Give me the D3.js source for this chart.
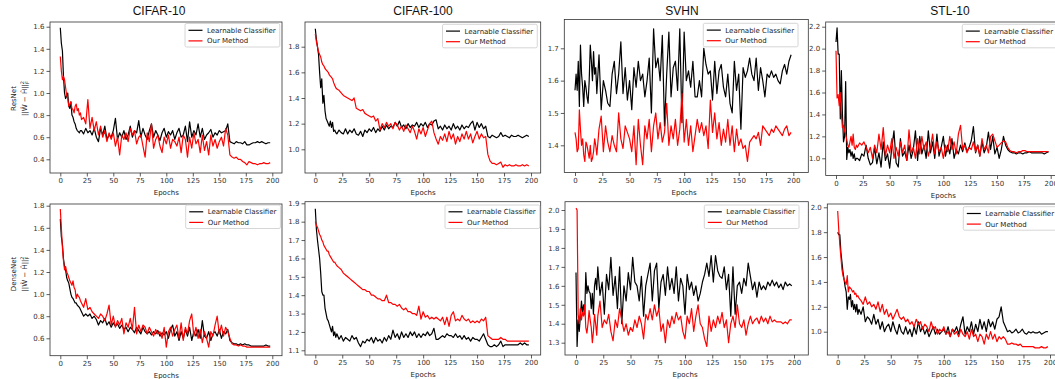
<!DOCTYPE html>
<html>
<head>
<meta charset="utf-8">
<script src="https://cdn.jsdelivr.net/npm/d3@7"></script>
<style>
  body { margin: 0; background: #fff; }
  svg { display: block; }
  .tick text { font-family: "DejaVu Sans", sans-serif; font-size: 7px; fill: #333; }
  .tick line { stroke: #333; stroke-width: 0.8; }
  .spine { fill: none; stroke: #333; stroke-width: 0.8; }
  .title { font-family: "Liberation Sans", Arial, sans-serif; font-size: 12px; fill: #111; }
  .xlabel, .ylabel, .legtext { font-family: "DejaVu Sans", sans-serif; font-size: 7px; fill: #222; }
</style>
</head>
<body>
<svg id="fig" width="1055" height="379"></svg>
<script>
// epochs: every epoch for the first 20, then every second epoch
const epochs = d3.range(0, 20).concat(d3.range(20, 200, 2));
const xTicks = [0, 25, 50, 75, 100, 125, 150, 175, 200];
const titles = ['CIFAR-10', 'CIFAR-100', 'SVHN', 'STL-10'];
const rowLabels = ['ResNet', 'DenseNet'];
const seriesNames = ['Learnable Classifier', 'Our Method'];
const seriesColors = ['#000000', '#ff0000'];

// ---- ResNet row ----
const resC10Learn = [1.59, 1.45, 1.38, 1.15, 1.00, 0.95, 0.97, 1.00, 0.88, 0.86, 0.92, 0.80, 0.78, 0.74, 0.72, 0.68, 0.66, 0.65, 0.64, 0.66,
  0.66, 0.63, 0.68, 0.64, 0.66, 0.62, 0.68, 0.60, 0.56, 0.68,
  0.62, 0.70, 0.58, 0.62, 0.60, 0.66, 0.77, 0.58, 0.64, 0.60,
  0.66, 0.58, 0.62, 0.70, 0.60, 0.66, 0.64, 0.75, 0.60, 0.68,
  0.62, 0.58, 0.66, 0.72, 0.60, 0.66, 0.62, 0.57, 0.64, 0.68,
  0.60, 0.65, 0.62, 0.66, 0.58, 0.64, 0.68, 0.60, 0.62, 0.70,
  0.56, 0.74, 0.60, 0.66, 0.62, 0.72, 0.60, 0.68, 0.58, 0.62,
  0.64, 0.67, 0.60, 0.64, 0.62, 0.66, 0.64, 0.65, 0.66, 0.72,
  0.56, 0.55, 0.54, 0.56, 0.55, 0.55, 0.54, 0.56, 0.53, 0.53,
  0.54, 0.55, 0.55, 0.56, 0.55, 0.56, 0.55, 0.54, 0.55, 0.55];
const resC10Ours = [1.33, 1.20, 1.12, 1.15, 1.12, 1.05, 0.98, 0.95, 0.88, 0.90, 0.92, 0.86, 0.85, 0.82, 0.88, 0.90, 0.84, 0.86, 0.80, 0.82,
  0.76, 0.78, 0.72, 0.94, 0.68, 0.78, 0.66, 0.74, 0.62, 0.70,
  0.60, 0.66, 0.56, 0.64, 0.58, 0.64, 0.52, 0.60, 0.44, 0.62,
  0.58, 0.64, 0.56, 0.68, 0.62, 0.66, 0.54, 0.60, 0.62, 0.52,
  0.42, 0.64, 0.56, 0.72, 0.50, 0.58, 0.62, 0.52, 0.46, 0.60,
  0.54, 0.62, 0.50, 0.58, 0.56, 0.52, 0.60, 0.46, 0.62, 0.58,
  0.42, 0.60, 0.50, 0.64, 0.54, 0.58, 0.46, 0.62, 0.48, 0.56,
  0.44, 0.62, 0.52, 0.58, 0.50, 0.56, 0.60, 0.52, 0.68, 0.62,
  0.44, 0.42, 0.41, 0.42, 0.40, 0.40, 0.38, 0.37, 0.35, 0.38,
  0.37, 0.36, 0.36, 0.35, 0.36, 0.36, 0.37, 0.36, 0.36, 0.37];

const resC100Learn = [1.94, 1.86, 1.80, 1.74, 1.60, 1.48, 1.55, 1.36, 1.42, 1.30, 1.24, 1.22, 1.20, 1.18, 1.22, 1.17, 1.21, 1.14, 1.15, 1.13,
  1.12, 1.15, 1.13, 1.12, 1.16, 1.12, 1.15, 1.13, 1.16, 1.12,
  1.11, 1.14, 1.10, 1.15, 1.13, 1.16, 1.14, 1.17, 1.13, 1.16,
  1.14, 1.18, 1.15, 1.19, 1.16, 1.18, 1.17, 1.21, 1.18, 1.22,
  1.17, 1.19, 1.16, 1.20, 1.17, 1.19, 1.18, 1.21, 1.17, 1.20,
  1.18, 1.21, 1.17, 1.20, 1.19, 1.22, 1.23, 1.16, 1.18, 1.15,
  1.19, 1.16, 1.18, 1.15, 1.20, 1.16, 1.18, 1.15, 1.19, 1.16,
  1.18, 1.17, 1.20, 1.22, 1.15, 1.21, 1.17, 1.20, 1.16, 1.18,
  1.10, 1.09, 1.11, 1.10, 1.09, 1.10, 1.13, 1.10, 1.11, 1.10,
  1.09, 1.11, 1.10, 1.10, 1.11, 1.10, 1.09, 1.10, 1.11, 1.10];
const resC100Ours = [1.90, 1.84, 1.80, 1.76, 1.74, 1.72, 1.68, 1.66, 1.65, 1.63, 1.62, 1.61, 1.60, 1.58, 1.57, 1.56, 1.55, 1.52, 1.50, 1.48,
  1.47, 1.46, 1.44, 1.42, 1.41, 1.40, 1.39, 1.38, 1.40, 1.32,
  1.31, 1.30, 1.31, 1.28, 1.27, 1.26, 1.25, 1.26, 1.22, 1.24,
  1.15, 1.20, 1.17, 1.21, 1.18, 1.20, 1.16, 1.21, 1.19, 1.15,
  1.18, 1.14, 1.19, 1.16, 1.13, 1.18, 1.14, 1.08, 1.16, 1.12,
  1.17, 1.10, 1.15, 1.20, 1.22, 1.13, 1.08, 1.04, 1.10, 1.07,
  1.12, 1.06, 1.14, 1.08, 1.12, 1.04, 1.10, 1.06, 1.12, 1.08,
  1.14, 1.08, 1.12, 1.05, 1.10, 1.14, 1.08, 1.12, 1.09, 1.10,
  0.96, 0.91, 0.89, 0.89, 0.88, 0.89, 0.90, 0.86, 0.88, 0.87,
  0.88, 0.87, 0.87, 0.88, 0.87, 0.87, 0.88, 0.87, 0.88, 0.87];

const resSvhnLearn = [1.57, 1.62, 1.57, 1.66, 1.52, 1.71, 1.62, 1.58, 1.52, 1.60, 1.58, 1.55, 1.53, 1.60, 1.71, 1.66, 1.60, 1.69, 1.62, 1.64,
  1.56, 1.68, 1.51, 1.60, 1.57, 1.53, 1.52, 1.62, 1.66, 1.56,
  1.62, 1.72, 1.56, 1.64, 1.54, 1.60, 1.51, 1.64, 1.58, 1.66,
  1.60, 1.62, 1.55, 1.60, 1.67, 1.50, 1.76, 1.64, 1.67, 1.60,
  1.74, 1.46, 1.62, 1.75, 1.55, 1.64, 1.66, 1.57, 1.76, 1.47,
  1.75, 1.60, 1.63, 1.58, 1.66, 1.55, 1.55, 1.60, 1.55, 1.70,
  1.65, 1.62, 1.63, 1.54, 1.66, 1.56, 1.63, 1.65, 1.58, 1.55,
  1.62, 1.53, 1.50, 1.66, 1.57, 1.62, 1.45, 1.64, 1.61, 1.63,
  1.67, 1.62, 1.60, 1.67, 1.57, 1.64, 1.60, 1.55, 1.62, 1.61,
  1.63, 1.61, 1.62, 1.60, 1.59, 1.63, 1.65, 1.62, 1.66, 1.68];
const resSvhnOurs = [1.44, 1.42, 1.38, 1.39, 1.51, 1.45, 1.40, 1.42, 1.37, 1.35, 1.41, 1.40, 1.38, 1.36, 1.40, 1.35, 1.36, 1.38, 1.42, 1.40,
  1.37, 1.45, 1.49, 1.38, 1.46, 1.41, 1.38, 1.43, 1.40, 1.38,
  1.50, 1.42, 1.39, 1.46, 1.44, 1.42, 1.38, 1.46, 1.34, 1.48,
  1.40, 1.34, 1.46, 1.42, 1.48, 1.38, 1.46, 1.50, 1.42, 1.47,
  1.41, 1.44, 1.53, 1.40, 1.46, 1.42, 1.48, 1.40, 1.45, 1.56,
  1.41, 1.48, 1.40, 1.46, 1.38, 1.43, 1.48, 1.44, 1.47, 1.43,
  1.46, 1.39, 1.54, 1.44, 1.50, 1.42, 1.47, 1.40, 1.45, 1.41,
  1.48, 1.40, 1.46, 1.38, 1.45, 1.40, 1.42, 1.39, 1.40, 1.35,
  1.41, 1.42, 1.43, 1.42, 1.44, 1.40, 1.46, 1.45, 1.44, 1.43,
  1.45, 1.44, 1.46, 1.45, 1.44, 1.43, 1.45, 1.46, 1.43, 1.44];

const resStlLearn = [2.06, 2.19, 1.95, 1.95, 1.36, 1.80, 1.40, 1.15, 1.20, 1.70, 0.99, 1.10, 1.05, 1.08, 1.02, 1.06, 1.00, 1.04, 0.98, 1.00,
  1.00, 0.98, 1.04, 1.02, 1.12, 1.00, 0.94, 0.96, 1.10, 0.95,
  1.05, 0.92, 1.15, 0.98, 1.04, 0.91, 1.10, 1.25, 0.96, 0.92,
  1.18, 1.02, 1.06, 0.98, 1.12, 1.00, 1.08, 1.25, 0.98, 1.20,
  1.04, 1.12, 1.00, 1.25, 1.05, 1.15, 1.00, 1.22, 1.02, 1.10,
  1.20, 1.02, 1.12, 1.04, 1.18, 1.00, 1.08, 1.04, 1.12, 1.06,
  1.14, 1.06, 1.10, 1.16, 1.29, 1.05, 1.12, 1.02, 1.15, 1.05,
  1.10, 1.24, 1.08, 1.20, 1.04, 1.10, 1.00, 1.08, 1.20, 1.12,
  1.08, 1.06, 1.05, 1.05, 1.04, 1.05, 1.05, 1.04, 1.05, 1.05,
  1.06, 1.05, 1.05, 1.05, 1.05, 1.05, 1.05, 1.04, 1.05, 1.06];
const resStlOurs = [1.98, 1.55, 1.58, 1.48, 1.60, 1.40, 1.28, 1.30, 1.25, 1.22, 1.17, 1.12, 1.10, 1.15, 1.20, 1.12, 1.22, 1.10, 1.08, 1.12,
  1.10, 1.14, 1.12, 1.15, 1.10, 1.05, 1.10, 1.00, 1.12, 1.05,
  1.22, 1.08, 1.28, 1.02, 1.12, 1.05, 1.18, 1.00, 1.10, 1.02,
  1.15, 1.05, 1.12, 0.98, 1.26, 1.05, 1.10, 1.00, 1.18, 1.04,
  1.20, 1.08, 1.15, 1.02, 1.10, 1.22, 1.04, 1.15, 1.06, 1.10,
  1.00, 1.12, 1.06, 1.20, 1.08, 1.15, 1.04, 1.22, 1.30, 1.08,
  1.12, 1.05, 1.10, 1.08, 1.15, 1.06, 1.12, 1.02, 1.18, 1.08,
  1.12, 1.05, 1.20, 1.22, 1.16, 1.10, 1.12, 1.14, 1.16, 1.15,
  1.10, 1.07, 1.06, 1.06, 1.05, 1.06, 1.06, 1.07, 1.07, 1.06,
  1.06, 1.06, 1.06, 1.06, 1.06, 1.06, 1.06, 1.06, 1.06, 1.06];

// ---- DenseNet row ----
const denC10Learn = [1.68, 1.52, 1.45, 1.32, 1.25, 1.22, 1.15, 1.12, 1.10, 1.05, 1.00, 0.97, 0.96, 0.94, 0.92, 0.92, 0.90, 0.89, 0.88, 0.86,
  0.84, 0.80, 0.82, 0.80, 0.82, 0.78, 0.80, 0.77, 0.72, 0.76,
  0.74, 0.78, 0.72, 0.75, 0.70, 0.74, 0.71, 0.73, 0.69, 0.72,
  0.68, 0.70, 0.66, 0.70, 0.68, 0.65, 0.70, 0.67, 0.64, 0.70,
  0.66, 0.64, 0.66, 0.63, 0.66, 0.64, 0.67, 0.62, 0.65, 0.63,
  0.66, 0.60, 0.68, 0.72, 0.62, 0.66, 0.58, 0.66, 0.60, 0.68,
  0.62, 0.70, 0.58, 0.66, 0.62, 0.68, 0.60, 0.76, 0.62, 0.60,
  0.66, 0.58, 0.64, 0.66, 0.62, 0.68, 0.60, 0.66, 0.64, 0.68,
  0.58, 0.56, 0.55, 0.55, 0.54, 0.55, 0.54, 0.55, 0.54, 0.54,
  0.53, 0.53, 0.53, 0.53, 0.53, 0.53, 0.53, 0.54, 0.53, 0.53];
const denC10Ours = [1.77, 1.60, 1.42, 1.30, 1.22, 1.25, 1.20, 1.18, 1.15, 1.12, 1.10, 1.08, 1.12, 1.06, 1.04, 0.96, 1.00, 0.98, 0.97, 0.94,
  0.92, 0.88, 0.96, 0.86, 0.88, 0.84, 0.82, 0.80, 0.78, 0.82,
  0.80, 0.76, 0.82, 0.90, 0.72, 0.80, 0.70, 0.76, 0.72, 0.78,
  0.64, 0.74, 0.70, 0.78, 0.68, 0.88, 0.64, 0.72, 0.66, 0.72,
  0.70, 0.64, 0.70, 0.66, 0.62, 0.68, 0.64, 0.66, 0.60, 0.70,
  0.52, 0.66, 0.70, 0.62, 0.68, 0.72, 0.60, 0.74, 0.58, 0.70,
  0.64, 0.76, 0.82, 0.62, 0.70, 0.60, 0.68, 0.56, 0.66, 0.60,
  0.52, 0.66, 0.62, 0.72, 0.80, 0.64, 0.72, 0.62, 0.70, 0.66,
  0.60, 0.55, 0.54, 0.54, 0.53, 0.54, 0.53, 0.53, 0.52, 0.52,
  0.52, 0.52, 0.52, 0.52, 0.52, 0.52, 0.52, 0.52, 0.52, 0.52];

const denC100Learn = [1.87, 1.76, 1.70, 1.65, 1.60, 1.52, 1.42, 1.40, 1.40, 1.33, 1.30, 1.27, 1.26, 1.24, 1.22, 1.20, 1.23, 1.18, 1.20, 1.17,
  1.19, 1.16, 1.18, 1.15, 1.17, 1.16, 1.15, 1.18, 1.16, 1.17,
  1.14, 1.12, 1.15, 1.14, 1.16, 1.15, 1.17, 1.14, 1.17, 1.15,
  1.16, 1.14, 1.17, 1.15, 1.18, 1.16, 1.21, 1.17, 1.19, 1.16,
  1.20, 1.17, 1.19, 1.17, 1.20, 1.18, 1.20, 1.17, 1.19, 1.17,
  1.19, 1.18, 1.20, 1.18, 1.19, 1.22, 1.16, 1.16, 1.17, 1.18,
  1.17, 1.19, 1.18, 1.18, 1.17, 1.19, 1.17, 1.18, 1.16, 1.18,
  1.16, 1.17, 1.15, 1.17, 1.16, 1.16, 1.15, 1.17, 1.19, 1.16,
  1.13, 1.12, 1.12, 1.13, 1.12, 1.13, 1.15, 1.12, 1.13, 1.13,
  1.13, 1.13, 1.13, 1.13, 1.13, 1.14, 1.13, 1.14, 1.13, 1.13];
const denC100Ours = [1.80, 1.78, 1.77, 1.75, 1.73, 1.72, 1.70, 1.69, 1.67, 1.66, 1.65, 1.64, 1.64, 1.62, 1.61, 1.60, 1.59, 1.58, 1.58, 1.57,
  1.56, 1.55, 1.54, 1.52, 1.51, 1.50, 1.49, 1.48, 1.47, 1.46,
  1.45, 1.44, 1.43, 1.43, 1.42, 1.42, 1.40, 1.40, 1.39, 1.38,
  1.38, 1.37, 1.37, 1.40, 1.36, 1.36, 1.35, 1.35, 1.34, 1.35,
  1.33, 1.32, 1.33, 1.31, 1.31, 1.30, 1.30, 1.29, 1.34, 1.27,
  1.31, 1.28, 1.29, 1.27, 1.28, 1.27, 1.28, 1.27, 1.26, 1.28,
  1.24, 1.28, 1.23, 1.29, 1.31, 1.26, 1.27, 1.26, 1.29, 1.27,
  1.26, 1.27, 1.25, 1.26, 1.25, 1.26, 1.25, 1.27, 1.26, 1.28,
  1.18, 1.17, 1.16, 1.16, 1.16, 1.16, 1.17, 1.16, 1.16, 1.15,
  1.15, 1.15, 1.15, 1.15, 1.15, 1.15, 1.15, 1.15, 1.15, 1.15];

const denSvhnLearn = [1.67, 1.28, 1.42, 1.36, 1.44, 1.52, 1.46, 1.50, 1.45, 1.67, 1.56, 1.60, 1.57, 1.56, 1.48, 1.56, 1.45, 1.60, 1.64, 1.58,
  1.70, 1.55, 1.62, 1.45, 1.66, 1.58, 1.75, 1.55, 1.65, 1.48,
  1.70, 1.40, 1.60, 1.52, 1.67, 1.58, 1.75, 1.62, 1.60, 1.52,
  1.65, 1.44, 1.60, 1.66, 1.72, 1.52, 1.68, 1.72, 1.48, 1.62,
  1.66, 1.55, 1.70, 1.58, 1.64, 1.56, 1.70, 1.52, 1.64, 1.60,
  1.45, 1.66, 1.58, 1.62, 1.55, 1.60, 1.52, 1.56, 1.62, 1.66,
  1.72, 1.65, 1.76, 1.62, 1.76, 1.68, 1.65, 1.64, 1.70, 1.58,
  1.66, 1.44, 1.70, 1.45, 1.60, 1.62, 1.56, 1.64, 1.60, 1.72,
  1.65, 1.58, 1.62, 1.54, 1.62, 1.58, 1.60, 1.58, 1.62, 1.60,
  1.63, 1.60, 1.62, 1.59, 1.61, 1.58, 1.62, 1.60, 1.61, 1.60];
const denSvhnOurs = [2.01, 2.00, 1.45, 1.40, 1.48, 1.42, 1.46, 1.44, 1.50, 1.38, 1.35, 1.40, 1.47, 1.42, 1.38, 1.30, 1.36, 1.45, 1.40, 1.34,
  1.44, 1.52, 1.38, 1.42, 1.40, 1.45, 1.36, 1.31, 1.42, 1.38,
  1.48, 1.42, 1.36, 1.40, 1.34, 1.38, 1.36, 1.42, 1.38, 1.44,
  1.40, 1.32, 1.45, 1.42, 1.48, 1.42, 1.50, 1.44, 1.48, 1.36,
  1.40, 1.30, 1.42, 1.38, 1.44, 1.40, 1.46, 1.42, 1.44, 1.36,
  1.32, 1.44, 1.40, 1.48, 1.36, 1.44, 1.50, 1.40, 1.38, 1.32,
  1.28, 1.44, 1.36, 1.42, 1.38, 1.44, 1.40, 1.46, 1.38, 1.42,
  1.30, 1.40, 1.44, 1.38, 1.50, 1.40, 1.38, 1.42, 1.34, 1.40,
  1.44, 1.40, 1.42, 1.43, 1.40, 1.44, 1.41, 1.43, 1.40, 1.44,
  1.41, 1.42, 1.41, 1.41, 1.41, 1.40, 1.41, 1.40, 1.42, 1.42];

const denStlLearn = [1.80, 1.78, 1.78, 1.64, 1.56, 1.48, 1.42, 1.36, 1.32, 1.18, 1.28, 1.26, 1.30, 1.20, 1.25, 1.18, 1.22, 1.16, 1.22, 1.14,
  1.18, 1.14, 1.20, 1.08, 1.12, 1.10, 1.06, 1.14, 1.06, 1.10,
  1.02, 1.08, 1.00, 1.04, 1.06, 1.00, 1.08, 1.02, 0.98, 1.06,
  1.00, 0.98, 1.04, 0.98, 1.02, 0.96, 1.04, 0.98, 1.08, 1.00,
  1.04, 0.98, 1.02, 0.96, 1.00, 1.04, 0.98, 1.02, 0.98, 1.00,
  1.02, 0.98, 1.04, 0.96, 1.02, 1.00, 1.04, 0.98, 1.06, 1.12,
  0.98, 1.04, 1.00, 1.08, 0.98, 1.06, 1.00, 1.10, 1.02, 1.08,
  1.00, 1.10, 1.04, 1.08, 1.02, 1.10, 1.12, 1.20, 1.08, 1.04,
  1.00, 1.01, 0.99, 1.00, 1.02, 0.99, 1.00, 1.02, 0.99, 0.98,
  1.00, 0.99, 1.00, 0.99, 0.99, 1.00, 0.98, 0.99, 1.00, 1.00];
const denStlOurs = [1.97, 1.82, 1.70, 1.60, 1.50, 1.45, 1.42, 1.40, 1.38, 1.45, 1.32, 1.36, 1.35, 1.34, 1.32, 1.33, 1.30, 1.31, 1.28, 1.29,
  1.27, 1.25, 1.22, 1.28, 1.22, 1.24, 1.20, 1.22, 1.18, 1.24,
  1.16, 1.22, 1.14, 1.18, 1.12, 1.15, 1.10, 1.14, 1.18, 1.12,
  1.10, 1.12, 1.08, 1.10, 1.06, 1.08, 1.04, 1.10, 1.06, 1.08,
  1.02, 1.06, 1.04, 1.00, 1.08, 1.02, 1.04, 0.98, 1.02, 1.00,
  1.04, 0.98, 1.00, 0.96, 1.02, 0.98, 1.00, 0.96, 1.02, 0.98,
  0.96, 1.00, 0.94, 1.02, 0.96, 0.98, 0.92, 0.98, 0.96, 0.90,
  0.98, 0.94, 1.00, 0.94, 0.98, 0.92, 0.96, 0.94, 0.96, 0.94,
  0.90, 0.90, 0.91, 0.90, 0.90, 0.89, 0.90, 0.88, 0.88, 0.88,
  0.88, 0.88, 0.88, 0.87, 0.87, 0.87, 0.88, 0.87, 0.87, 0.88];

// y tick values per panel
const yTicksC10 = [0.4, 0.6, 0.8, 1.0, 1.2, 1.4, 1.6];
const yTicksC100 = [1.0, 1.2, 1.4, 1.6, 1.8];
const yTicksSvhn = [1.4, 1.5, 1.6, 1.7];
const yTicksStl = [1.0, 1.2, 1.4, 1.6, 1.8, 2.0, 2.2];
const yTicksDC10 = [0.6, 0.8, 1.0, 1.2, 1.4, 1.6, 1.8];
const yTicksDC100 = [1.1, 1.2, 1.3, 1.4, 1.5, 1.6, 1.7, 1.8, 1.9];
const yTicksDSvhn = [1.3, 1.4, 1.5, 1.6, 1.7, 1.8, 1.9, 2.0];
const yTicksDStl = [1.0, 1.2, 1.4, 1.6, 1.8, 2.0];

// panel layout: box = [left, top, right, bottom], xr = pixel of epoch 0 / 200,
// yr = [value a, pixel a, value b, pixel b], leg = legend box left/top, tx = title centre
const panels = [
  { row: 0, col: 0, box: [50, 22, 282, 173], xr: [60.3, 272.3], yr: [1.6, 26.7, 0.4, 159.3], ticks: yTicksC10, series: [resC10Learn, resC10Ours], leg: [185, 23.5], tx: 159 },
  { row: 0, col: 1, box: [305, 22, 540.7, 173], xr: [315.3, 531], yr: [1.8, 46.7, 1.0, 149.3], ticks: yTicksC100, series: [resC100Learn, resC100Ours], leg: [442.5, 24.3], tx: 423 },
  { row: 0, col: 2, box: [564.3, 19.5, 808.3, 172.5], xr: [575, 793.3], yr: [1.7, 48.3, 1.4, 145.3], ticks: yTicksSvhn, series: [resSvhnLearn, resSvhnOurs], leg: [703.3, 23.3], tx: 682 },
  { row: 0, col: 3, box: [825.7, 22, 1061, 175.5], xr: [836, 1050.7], yr: [2.2, 26.7, 1.0, 158.3], ticks: yTicksStl, series: [resStlLearn, resStlOurs], leg: [962.3, 24.3], tx: 950 },
  { row: 1, col: 0, box: [50, 204, 282, 355.7], xr: [60.3, 272.3], yr: [1.8, 205.7, 0.6, 338.3], ticks: yTicksDC10, series: [denC10Learn, denC10Ours], leg: [185.7, 205] },
  { row: 1, col: 1, box: [305, 201.7, 540.7, 355], xr: [315.3, 531], yr: [1.9, 203.3, 1.1, 350.3], ticks: yTicksDC100, series: [denC100Learn, denC100Ours], leg: [445, 205] },
  { row: 1, col: 2, box: [565, 201.7, 808.3, 355], xr: [576, 794], yr: [2.0, 210, 1.3, 342.7], ticks: yTicksDSvhn, series: [denSvhnLearn, denSvhnOurs], leg: [704.3, 205] },
  { row: 1, col: 3, box: [827.3, 204, 1061, 355], xr: [837.7, 1050], yr: [2.0, 207.3, 1.0, 331.7], ticks: yTicksDStl, series: [denStlLearn, denStlOurs], leg: [963.3, 206.7] }
];

const svg = d3.select('#fig');
const fmt = d3.format('.1f');

panels.forEach((p, i) => {
  const [x0, y0, x1, y1] = p.box;
  const x = d3.scaleLinear().domain([0, 200]).range(p.xr);
  const y = d3.scaleLinear().domain([p.yr[0], p.yr[2]]).range([p.yr[1], p.yr[3]]);

  const g = svg.append('g').attr('class', 'panel');

  svg.append('clipPath').attr('id', 'clip' + i)
    .append('rect').attr('x', x0).attr('y', y0).attr('width', x1 - x0).attr('height', y1 - y0);

  // lines
  const line = d3.line()
    .x((d, k) => x(epochs[k]))
    .y(d => y(d));
  const plot = g.append('g').attr('clip-path', `url(#clip${i})`);
  p.series.forEach((s, k) => {
    plot.append('path')
      .datum(s)
      .attr('d', line)
      .attr('fill', 'none')
      .attr('stroke', seriesColors[k])
      .attr('stroke-width', 1.2)
      .attr('stroke-linejoin', 'round');
  });

  // axes
  g.append('g')
    .attr('transform', `translate(0,${y1})`)
    .call(d3.axisBottom(x).tickValues(xTicks).tickSize(3.5).tickPadding(2).tickFormat(d3.format('d')))
    .call(a => a.select('.domain').remove());
  g.append('g')
    .attr('transform', `translate(${x0},0)`)
    .call(d3.axisLeft(y).tickValues(p.ticks).tickSize(3.5).tickPadding(2).tickFormat(fmt))
    .call(a => a.select('.domain').remove());

  g.append('rect').attr('class', 'spine')
    .attr('x', x0).attr('y', y0).attr('width', x1 - x0).attr('height', y1 - y0);

  g.append('text').attr('class', 'xlabel')
    .attr('x', (x(0) + x(200)) / 2).attr('y', y1 + 22)
    .attr('text-anchor', 'middle')
    .text('Epochs');

  if (p.row === 0) {
    svg.append('text').attr('class', 'title')
      .attr('x', p.tx).attr('y', 14.5)
      .attr('text-anchor', 'middle')
      .text(titles[p.col]);
  }

  // legend
  const [lx, ly] = p.leg;
  const leg = g.append('g').attr('transform', `translate(${lx},${ly})`);
  const box = leg.append('rect')
    .attr('width', 94).attr('height', 23.5)
    .attr('rx', 1.5)
    .attr('fill', '#fff').attr('fill-opacity', 0.85)
    .attr('stroke', '#ccc').attr('stroke-width', 0.8);
  let wmax = 0;
  seriesNames.forEach((name, k) => {
    const yy = 6.8 + k * 10.6;
    leg.append('line').attr('x1', 3.5).attr('x2', 17.5).attr('y1', yy).attr('y2', yy)
      .attr('stroke', seriesColors[k]).attr('stroke-width', 1.2);
    const t = leg.append('text').attr('class', 'legtext')
      .attr('x', 22).attr('y', yy + 2.5).text(name);
    wmax = Math.max(wmax, t.node().getComputedTextLength());
  });
  box.attr('width', 22 + wmax + 4);
});

// row labels on the left
rowLabels.forEach((name, r) => {
  const cy = r === 0 ? 98.5 : 274;
  const g = svg.append('g').attr('transform', `translate(0,${cy})`);
  g.append('text').attr('class', 'ylabel')
    .attr('transform', 'translate(16,0) rotate(-90)')
    .attr('text-anchor', 'middle')
    .text(name);
  const f = g.append('text').attr('class', 'ylabel')
    .attr('transform', 'translate(27,0) rotate(-90)')
    .attr('text-anchor', 'middle');
  f.append('tspan').text('||Ŵ − Ĥ||');
  f.append('tspan').attr('font-size', '5px').attr('dy', -3).text('2');
  f.append('tspan').attr('font-size', '5px').attr('dx', -3).attr('dy', 5).text('F');
});
</script>
</body>
</html>
